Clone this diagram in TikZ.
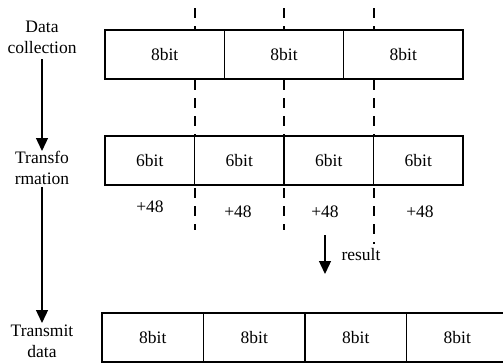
\documentclass[tikz,border=0pt]{standalone}
\usepackage{fontspec}
\setmainfont{Liberation Serif}
\usetikzlibrary{arrows.meta}

\tikzset{
    bitcell/.style={draw, fill=white, line width=1.2bp, minimum height=49bp, inner sep=0pt},
    steplabel/.style={align=center, inner sep=0pt},
    flow/.style={line width=1.3bp, -{Triangle[length=13bp,width=12bp]}},
    cutline/.style={line width=1.3bp, dash pattern=on 10bp off 8bp}
}

\begin{document}
\begin{tikzpicture}[x=1bp, y=-1bp, font=\fontsize{17.5bp}{21bp}\selectfont]
            \useasboundingbox (0,0) rectangle (503,363);

            % Lineas de corte (detras de las cajas)
            \foreach \x/\y in {195/230, 284/230, 374/244} {
                \draw[cutline] (\x,8) -- (\x,\y);
            }

            % Datos recogidos: 3 x 8bit
            \foreach \i in {1,2,3} {
                \node[bitcell, minimum width=119.33bp] (d\i) at ({105+119.33*(\i-0.5)},54.5) {8bit};
            }

            % Transformacion: 4 x 6bit
            \foreach \i in {1,2,3,4} {
                \node[bitcell, minimum width=89.5bp] (t\i) at ({105+89.5*(\i-0.5)},160.5) {6bit};
            }

            % Suma de 48
            \node (p1) at (150,207) {+48};
            \node (p2) at (238,212) {+48};
            \node (p3) at (325,212) {+48};
            \node (p4) at (420,212) {+48};

            % Datos enviados: 4 x 8bit
            \foreach \i in {1,2,3,4} {
                \node[bitcell, minimum width=101.5bp] (s\i) at ({102+101.5*(\i-0.5)},337.5) {8bit};
            }

            % Etapas
            \node[steplabel, anchor=north] (collect) at (42,21) {Data\\collection};
            \node[steplabel, anchor=north] (transf) at (42,151) {Transfo\\rmation};
            \node[steplabel, anchor=north] (transmit) at (42,325) {Transmit\\data};

            \draw[flow, shorten <=5bp] (collect.south) -- (transf.north);
            \draw[flow, shorten <=2bp, shorten >=2bp] (transf.south) -- (transmit.north);

            % Resultado
            \coordinate (rtop) at (325,235);
            \coordinate (rend) at (325,274);
            \draw[flow] (rtop) -- (rend);
            \node (res) at (361,255) {result};
        \end{tikzpicture}
\end{document}
